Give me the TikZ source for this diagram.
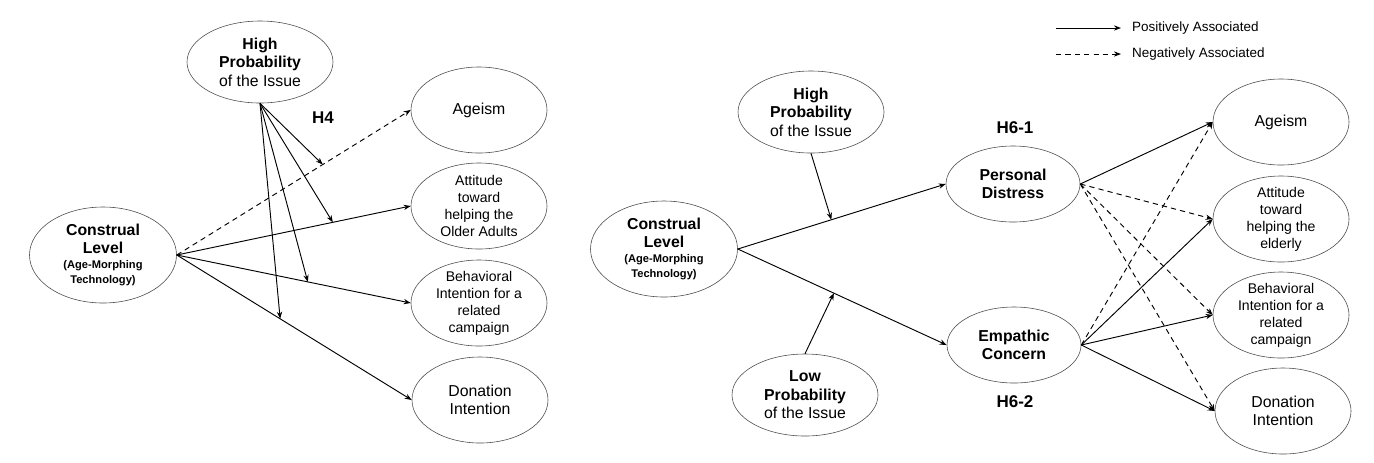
\documentclass[tikz,border=0pt]{standalone}
\usepackage{fontspec}
\setmainfont{Liberation Sans}
\usetikzlibrary{shapes,arrows.meta,calc}

\begin{document}
\begin{tikzpicture}[x=0.03cm,y=-0.03cm]
      \tikzset{construct/.style={ellipse,
          draw=black!70,
          line width=0.5pt,
          inner sep=0pt,
          align=center,
          font=\fontsize{13.5}{15.7}\selectfont},
        moderator/.style={construct, minimum width=4.38cm, minimum height=2.46cm},
        predictor/.style={construct, minimum width=4.41cm, minimum height=2.88cm},
        mediator/.style={construct, minimum width=4.02cm, minimum height=2.28cm},
        outcome/.style={construct, minimum width=4.08cm, minimum height=2.58cm},
        smalltext/.style={font=\fontsize{12}{14.5}\selectfont, inner ysep=-0.12cm},
        posline/.style={-{Stealth[length=6pt,width=4.5pt]}, line width=0.8pt},
        negline/.style={posline, dash pattern=on 4.5pt off 3.5pt},
        hyp/.style={font=\fontsize{14.5}{17}\selectfont\bfseries}
      }
      \useasboundingbox (0,0) rectangle (1374,462);

      \node [predictor] (cl1) at (103,255) {\textbf{Construal}\\\textbf{Level}\\[-3pt]{\fontsize{9.5}{12}\selectfont\textbf{(Age-Morphing}}\\[-3pt]{\fontsize{9.5}{12}\selectfont\textbf{Technology)}}};
      \node [moderator] (hp1) at (260,62) {\textbf{High}\\\textbf{Probability}\\of the Issue};
      \node [outcome] (age1) at (479,110) {Ageism};
      \node [outcome, smalltext] (att1) at (479,206) {Attitude\\toward\\helping the\\Older Adults};
      \node [outcome, smalltext] (bi1) at (479,303) {Behavioral\\Intention for a\\related\\campaign};
      \node [outcome] (don1) at (480,400) {Donation\\Intention};
      \node [hyp] (h4) at (323,118) {H4};

      \coordinate (m1) at ($(cl1.east)!0.624!(age1.west)$);
      \coordinate (m2) at ($(cl1.east)!0.667!(att1.west)$);
      \coordinate (m3) at ($(cl1.east)!0.56!(bi1.west)$);
      \coordinate (m4) at ($(cl1.east)!0.44!(don1.west)$);
      \draw [negline] (cl1.east)--(age1.west);
      \draw [posline] (cl1.east)--(att1.west);
      \draw [posline] (cl1.east)--(bi1.west);
      \draw [posline] (cl1.east)--(don1.west);
      \foreach \m in {m1,m2,m3,m4}
        \draw [posline] (hp1.south)--(\m);

      \node [predictor] (cl2) at (664,249) {\textbf{Construal}\\\textbf{Level}\\[-3pt]{\fontsize{9.5}{12}\selectfont\textbf{(Age-Morphing}}\\[-3pt]{\fontsize{9.5}{12}\selectfont\textbf{Technology)}}};
      \node [moderator] (hp2) at (811,112) {\textbf{High}\\\textbf{Probability}\\of the Issue};
      \node [moderator] (lp2) at (805,395) {\textbf{Low}\\\textbf{Probability}\\of the Issue};
      \node [mediator, font=\fontsize{13.5}{15.7}\selectfont\bfseries] (pd) at (1013,184) {Personal\\Distress};
      \node [mediator, font=\fontsize{13.5}{15.7}\selectfont\bfseries] (ec) at (1014,345) {Empathic\\Concern};
      \node [hyp] (h61) at (1015,128) {H6-1};
      \node [hyp] (h62) at (1015,402) {H6-2};
      \node [outcome] (age2) at (1281,122) {Ageism};
      \node [outcome, smalltext] (att2) at (1281,219) {Attitude\\toward\\helping the\\elderly};
      \node [outcome, smalltext] (bi2) at (1281,315) {Behavioral\\Intention for a\\related\\campaign};
      \node [outcome] (don2) at (1283,411) {Donation\\Intention};

      \coordinate (m5) at ($(cl2.east)!0.45!(pd.west)$);
      \coordinate (m6) at ($(cl2.east)!0.46!(ec.west)$);
      \draw [posline] (cl2.east)--(pd.west);
      \draw [posline] (cl2.east)--(ec.west);
      \draw [posline] (hp2.south)--(m5);
      \draw [posline] (lp2.north)--(m6);

      \draw [posline] (pd.east)--(age2.west);
      \draw [negline] (pd.east)--(att2.west);
      \draw [negline] (pd.east)--(bi2.west);
      \draw [negline] (pd.east)--(don2.west);
      \draw [negline] (ec.east)--(age2.west);
      \draw [posline] (ec.east)--(att2.west);
      \draw [posline] (ec.east)--(bi2.west);
      \draw [posline] (ec.east)--(don2.west);

      \coordinate (k1) at (1056,28);
      \coordinate (k2) at (1056,54);
      \node [anchor=west, font=\fontsize{11.5}{14}\selectfont] (kpos) at (1128,28) {Positively Associated};
      \node [anchor=west, font=\fontsize{11.5}{14}\selectfont] (kneg) at (1128,54) {Negatively Associated};
      \draw [posline, shorten >=6pt] (k1)--(kpos.west);
      \draw [negline, shorten >=6pt] (k2)--(kneg.west);

    \end{tikzpicture}
\end{document}
